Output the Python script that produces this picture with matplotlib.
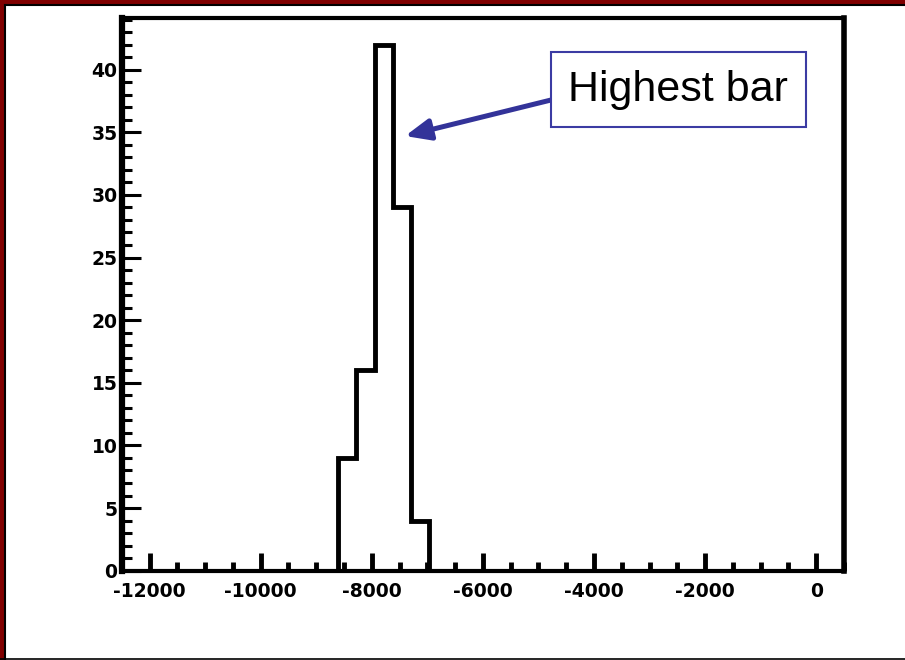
import numpy as np
import matplotlib
matplotlib.use("Agg")
import matplotlib.pyplot as plt
from matplotlib.lines import Line2D
from matplotlib.ticker import MultipleLocator

plt.rcParams["axes.unicode_minus"] = False

# histogram binning (ROOT style: 40 bins from -12500 to 500)
x_min = -12500
x_max = 500
n_bins = 40
# bin contents, only bins 12..16 are filled
counts = [0] * 12 + [9, 16, 42, 29, 4] + [0] * 23

x_major = 2000
x_minor = 500
y_major = 5
y_minor = 1

label_text = "Highest bar"
label_xy = (-2480, 38.4)
arrow_tip = (-7400, 34.7)

edges = np.linspace(x_min, x_max, n_bins + 1)

fig = plt.figure(figsize=(9.05, 6.6), dpi=100)
fig.patch.set_facecolor("white")
ax = fig.add_axes([0.1345, 0.1353, 0.7981, 0.837])

ax.stairs(counts, edges, baseline=0, color="black", lw=3.5)

ax.set_xlim(x_min, x_max)
ax.set_ylim(0, max(counts) * 1.05)

ax.xaxis.set_major_locator(MultipleLocator(x_major))
ax.xaxis.set_minor_locator(MultipleLocator(x_minor))
ax.yaxis.set_major_locator(MultipleLocator(y_major))
ax.yaxis.set_minor_locator(MultipleLocator(y_minor))

ax.tick_params(axis="x", which="major", direction="in", length=13, width=3.5, pad=8)
ax.tick_params(axis="x", which="minor", direction="in", length=6.5, width=3.5)
ax.tick_params(axis="y", which="major", direction="in", length=14, width=2.2, pad=3)
ax.tick_params(axis="y", which="minor", direction="in", length=7, width=2.2)
ax.tick_params(top=False, right=False, which="both")

for lab in ax.get_xticklabels() + ax.get_yticklabels():
    lab.set_fontweight("bold")
    lab.set_fontsize(13.5)
    lab.set_family("DejaVu Sans")

ax.spines["left"].set_linewidth(4.5)
ax.spines["right"].set_linewidth(4)
ax.spines["top"].set_linewidth(3)
ax.spines["bottom"].set_linewidth(3)

ax.annotate(label_text, xy=arrow_tip, xytext=label_xy,
            ha="center", va="center", fontsize=31, family="Liberation Sans",
            bbox=dict(boxstyle="square,pad=0.4", fc="white", ec="#3b3ba3", lw=1.5),
            arrowprops=dict(arrowstyle="-|>,head_length=0.75,head_width=0.32",
                            mutation_scale=20, color="#333399", lw=3.6,
                            relpos=(0, 0.35), shrinkA=0, shrinkB=0))

# slide border: dark red band with black inner line on left and top
fig.add_artist(Line2D([0.0022, 0.0022], [0, 1], transform=fig.transFigure, color="#800000", lw=3))
fig.add_artist(Line2D([0.0055, 0.0055], [0, 0.994], transform=fig.transFigure, color="black", lw=1.5))
fig.add_artist(Line2D([0, 1], [0.997, 0.997], transform=fig.transFigure, color="#800000", lw=3))
fig.add_artist(Line2D([0.0055, 1], [0.992, 0.992], transform=fig.transFigure, color="black", lw=1.5))
fig.add_artist(Line2D([0, 1], [0.001, 0.001], transform=fig.transFigure, color="black", lw=1.2))

fig.savefig("out.png", dpi=100)
